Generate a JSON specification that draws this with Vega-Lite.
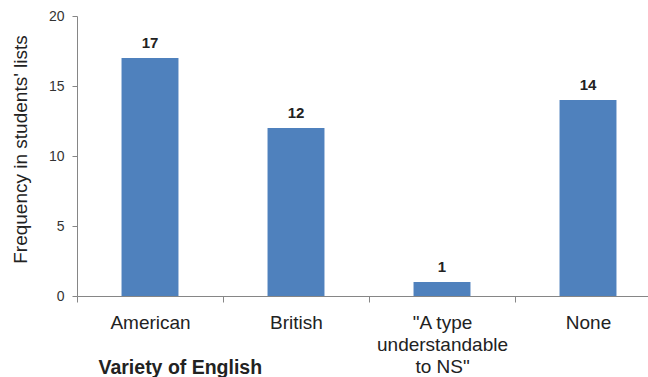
{
  "$schema": "https://vega.github.io/schema/vega-lite/v6.json",
  "width": 571,
  "height": 280,
  "autosize": "none",
  "padding": {"left": 77, "top": 16, "right": 0, "bottom": 81},
  "background": "white",
  "config": {"view": {"stroke": null}, "font": "Liberation Sans"},
  "data": {"values": [
    {"variety": "American", "freq": 17},
    {"variety": "British", "freq": 12},
    {"variety": "\"A type understandable to NS\"", "freq": 1},
    {"variety": "None", "freq": 14}
  ]},
  "encoding": {
    "x": {
      "field": "variety", "type": "nominal", "sort": null,
      "scale": {"range": [0, 584], "paddingInner": 0, "paddingOuter": 0},
      "axis": {
        "title": "Variety of English",
        "titleFont": "Liberation Sans", "titleFontSize": 19.5, "titleFontWeight": "bold", "titleColor": "#222222",
        "titleAnchor": "start", "titleAlign": "left", "titleBaseline": "alphabetic",
        "titleX": 21, "titleY": 77,
        "labelFont": "Liberation Sans", "labelFontSize": 19, "labelColor": "#222222",
        "labelAngle": 0, "labelPadding": 11, "labelBaseline": "top", "labelLineHeight": 22,
        "labelOffset": 73,
        "labelExpr": "datum.value == '\"A type understandable to NS\"' ? ['\"A type', 'understandable', 'to NS\"'] : datum.value",
        "domainColor": "#868686", "tickColor": "#868686", "tickSize": 6, "tickOffset": -73,
        "grid": false
      }
    },
    "y": {
      "field": "freq", "type": "quantitative",
      "scale": {"domain": [0, 20], "nice": false},
      "axis": {
        "values": [0, 5, 10, 15, 20],
        "title": "Frequency in students' lists",
        "titleFont": "Liberation Sans", "titleFontSize": 19, "titleFontWeight": "normal", "titleColor": "#222222",
        "titleAngle": -90, "titleAlign": "center", "titleBaseline": "middle",
        "titleX": -57, "titleY": 133,
        "labelFont": "Liberation Sans", "labelFontSize": 14, "labelColor": "#333333", "labelPadding": 8,
        "domainColor": "#868686", "tickColor": "#868686", "tickSize": 5,
        "grid": false
      }
    }
  },
  "layer": [
    {"mark": {"type": "bar", "color": "#4F81BD", "width": {"band": 0.39}}},
    {"mark": {"type": "text", "baseline": "bottom", "dy": -7, "fontSize": 15, "fontWeight": "bold", "color": "#222222", "font": "Liberation Sans"},
     "encoding": {"text": {"field": "freq", "type": "quantitative"}}}
  ]
}
